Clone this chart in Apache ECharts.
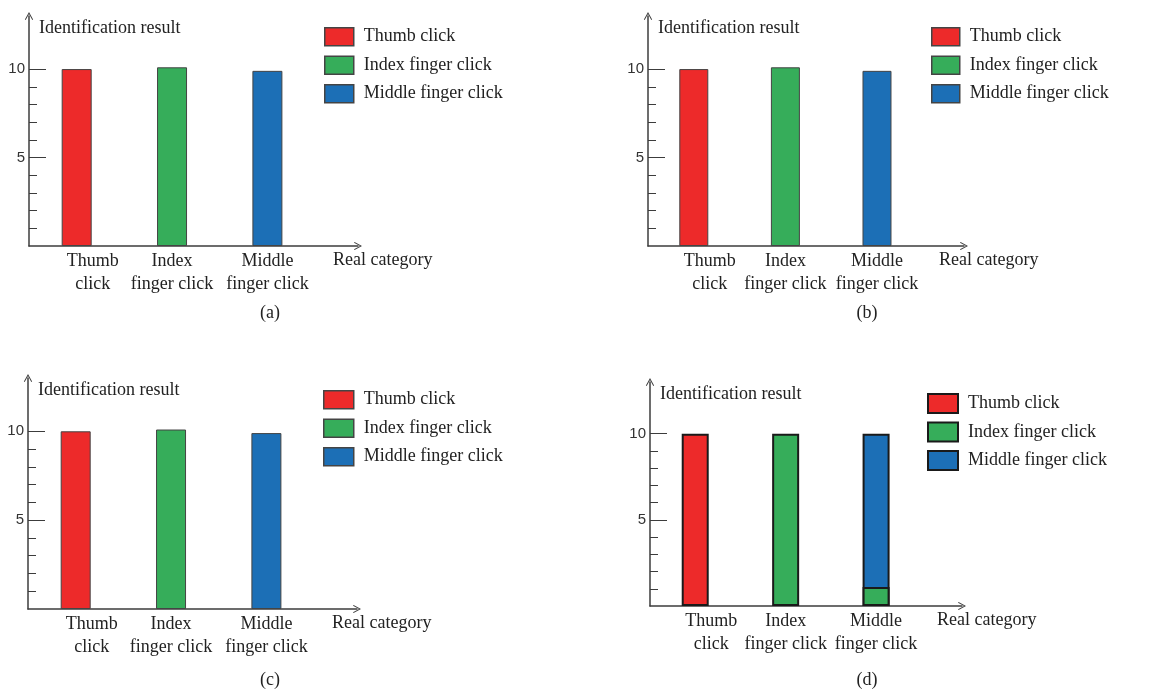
<!DOCTYPE html>
<html>
<head>
<meta charset="utf-8">
<script src="https://cdn.jsdelivr.net/npm/echarts@6/dist/echarts.min.js"></script>
<style>
  html, body { margin: 0; padding: 0; background: #ffffff; }
  #chart { width: 1157px; height: 694px; }
</style>
</head>
<body>
<div id="chart"></div>
<script>
// Real categories on the x axis and the predicted classes shown as series
const categories = ['Thumb\nclick', 'Index\nfinger click', 'Middle\nfinger click'];
const seriesNames = ['Thumb click', 'Index finger click', 'Middle finger click'];
const seriesColors = ['#ed2a2a', '#36ad5a', '#1c6fb6'];
const panelLabels = ['(a)', '(b)', '(c)', '(d)'];
const yMajorTicks = [5, 10];
const yMinorTicks = [1, 2, 3, 4, 6, 7, 8, 9];

// Identification counts, one array per predicted class, indexed by real category
const thumbA = [10, 0, 0];
const indexA = [0, 10.1, 0];
const middleA = [0, 0, 9.9];

const thumbB = [10, 0, 0];
const indexB = [0, 10.1, 0];
const middleB = [0, 0, 9.9];

const thumbC = [10, 0, 0];
const indexC = [0, 10.1, 0];
const middleC = [0, 0, 9.9];

const thumbD = [10, 0, 0];
const indexD = [0, 10, 1.1];
const middleD = [0, 0, 8.9];

const panelData = [
  [thumbA, indexA, middleA],
  [thumbB, indexB, middleB],
  [thumbC, indexC, middleC],
  [thumbD, indexD, middleD]
];

// Placement of the four sub-charts
const layouts = [
  { grid: { left: 29, top: 16, width: 329, height: 230 }, legend: { left: 324, top: 27 }, box: [29, 18, 9], caption: [270, 313], border: ['#444444', 1], legendBorder: 1.5, barWidth: 30 },
  { grid: { left: 648, top: 16, width: 316, height: 230 }, legend: { left: 931, top: 27 }, box: [28, 18, 9], caption: [867, 313], border: ['#444444', 1], legendBorder: 1.5, barWidth: 29 },
  { grid: { left: 28, top: 378, width: 329, height: 231 }, legend: { left: 323, top: 390 }, box: [30, 18, 9], caption: [270, 680], border: ['#444444', 1], legendBorder: 1.5, barWidth: 30 },
  { grid: { left: 650, top: 382, width: 312, height: 224 }, legend: { left: 927, top: 393 }, box: [30, 19, 7.5], caption: [867, 680], border: ['#1a1a1a', 2], legendBorder: 2, barWidth: 27 }
];

const SERIF = "'Liberation Serif', 'DejaVu Serif', serif";
const SANS = "'Liberation Sans', 'DejaVu Sans', sans-serif";
const AXIS_COLOR = '#3c3c3c';
const TEXT_COLOR = '#222222';
const X_MAX = 3.45;
const Y_MAX = 13;
// open arrow head drawn at the end of each axis line
const ARROW = 'path://M0,9 L5,0 L10,9 L9,9.7 L5,2.3 L1,9.7 Z';

// category label text; the first one sits a little to the right of its bar
function categoryLabel(v) {
  const i = Math.floor(v);
  const text = categories[i];
  if (text === undefined) return '';
  const style = i === 0 ? 'shift' : 'plain';
  return text.split('\n').map(line => '{' + style + '|' + line + '}').join('\n');
}
const labelRich = {
  plain: { fontFamily: SERIF, fontSize: 18, lineHeight: 23, color: TEXT_COLOR },
  shift: { fontFamily: SERIF, fontSize: 18, lineHeight: 23, color: TEXT_COLOR, padding: [0, 0, 0, 32] }
};

const grids = [], xAxes = [], yAxes = [], legends = [], series = [], graphics = [];

layouts.forEach((lay, p) => {
  grids.push(Object.assign({ containLabel: false }, lay.grid));

  xAxes.push({
    type: 'value',
    gridIndex: p,
    min: 0,
    max: X_MAX,
    name: 'Real category',
    nameLocation: 'end',
    nameGap: -25,
    nameTextStyle: { fontFamily: SERIF, fontSize: 18, color: TEXT_COLOR, align: 'left', verticalAlign: 'top', lineHeight: 23, padding: [3, 0, 0, 0] },
    axisLine: { show: true, lineStyle: { color: AXIS_COLOR, width: 1.5 }, symbol: ['none', ARROW], symbolSize: [9, 8] },
    axisTick: { show: false },
    splitLine: { show: false },
    axisLabel: {
      customValues: categories.map((c, i) => i + 0.5),
      formatter: categoryLabel,
      rich: labelRich,
      fontFamily: SERIF, fontSize: 18, lineHeight: 23, color: TEXT_COLOR, margin: 4
    }
  });

  // main y axis: line, arrow, labelled ticks and the axis title
  yAxes.push({
    type: 'value',
    gridIndex: p,
    position: 'left',
    min: 0,
    max: Y_MAX,
    name: 'Identification result',
    nameLocation: 'end',
    nameGap: -12,
    nameTextStyle: { fontFamily: SERIF, fontSize: 18, color: TEXT_COLOR, align: 'left', verticalAlign: 'middle', padding: [0, 0, 0, 10] },
    axisLine: { show: true, lineStyle: { color: AXIS_COLOR, width: 1.5 }, symbol: ['none', ARROW], symbolSize: [9, 8] },
    axisTick: { show: true, inside: true, length: 17, customValues: yMajorTicks, lineStyle: { color: AXIS_COLOR, width: 1 } },
    axisLabel: { customValues: yMajorTicks, fontFamily: SANS, fontSize: 15, color: '#333333', margin: 4 },
    splitLine: { show: false }
  });
  // companion y axis carrying the short unit ticks
  yAxes.push({
    type: 'value',
    gridIndex: p,
    position: 'left',
    offset: 0,
    min: 0,
    max: Y_MAX,
    axisLine: { show: false },
    axisTick: { show: true, inside: true, length: 8, customValues: yMinorTicks, lineStyle: { color: AXIS_COLOR, width: 1 } },
    axisLabel: { show: false },
    splitLine: { show: false }
  });

  legends.push({
    left: lay.legend.left,
    top: lay.legend.top,
    orient: 'vertical',
    padding: 0,
    selectedMode: false,
    itemWidth: lay.box[0],
    itemHeight: lay.box[1],
    itemGap: lay.box[2],
    icon: 'rect',
    data: seriesNames,
    itemStyle: { borderColor: lay.border[0], borderWidth: lay.legendBorder },
    textStyle: { fontFamily: SERIF, fontSize: 18, color: TEXT_COLOR, padding: [0, 0, 0, 5] }
  });

  // Stacked columns: each series is drawn up to its running total, the lower
  // segments sit on top (higher z) so every segment shows its own share.
  const running = [0, 0, 0];
  panelData[p].forEach((values, s) => {
    const tops = values.map((v, i) => (running[i] += v));
    series.push({
      type: 'bar',
      name: seriesNames[s],
      xAxisIndex: p,
      yAxisIndex: p * 2,
      barWidth: lay.barWidth,
      barGap: '-100%',
      z: 10 - s,
      itemStyle: { color: seriesColors[s], borderColor: lay.border[0], borderWidth: lay.border[1] },
      emphasis: { disabled: true },
      data: values.map((v, i) => [i + 0.5, v > 0 ? tops[i] : '-'])
    });
  });

  graphics.push({
    type: 'text',
    x: lay.caption[0],
    y: lay.caption[1],
    style: { text: panelLabels[p], font: '18px ' + SERIF, fill: TEXT_COLOR, align: 'center', verticalAlign: 'middle' }
  });
});

const chart = echarts.init(document.getElementById('chart'), null, { renderer: 'canvas' });
chart.setOption({
  animation: false,
  backgroundColor: '#ffffff',
  grid: grids,
  xAxis: xAxes,
  yAxis: yAxes,
  legend: legends,
  series: series,
  graphic: graphics
});
</script>
</body>
</html>
